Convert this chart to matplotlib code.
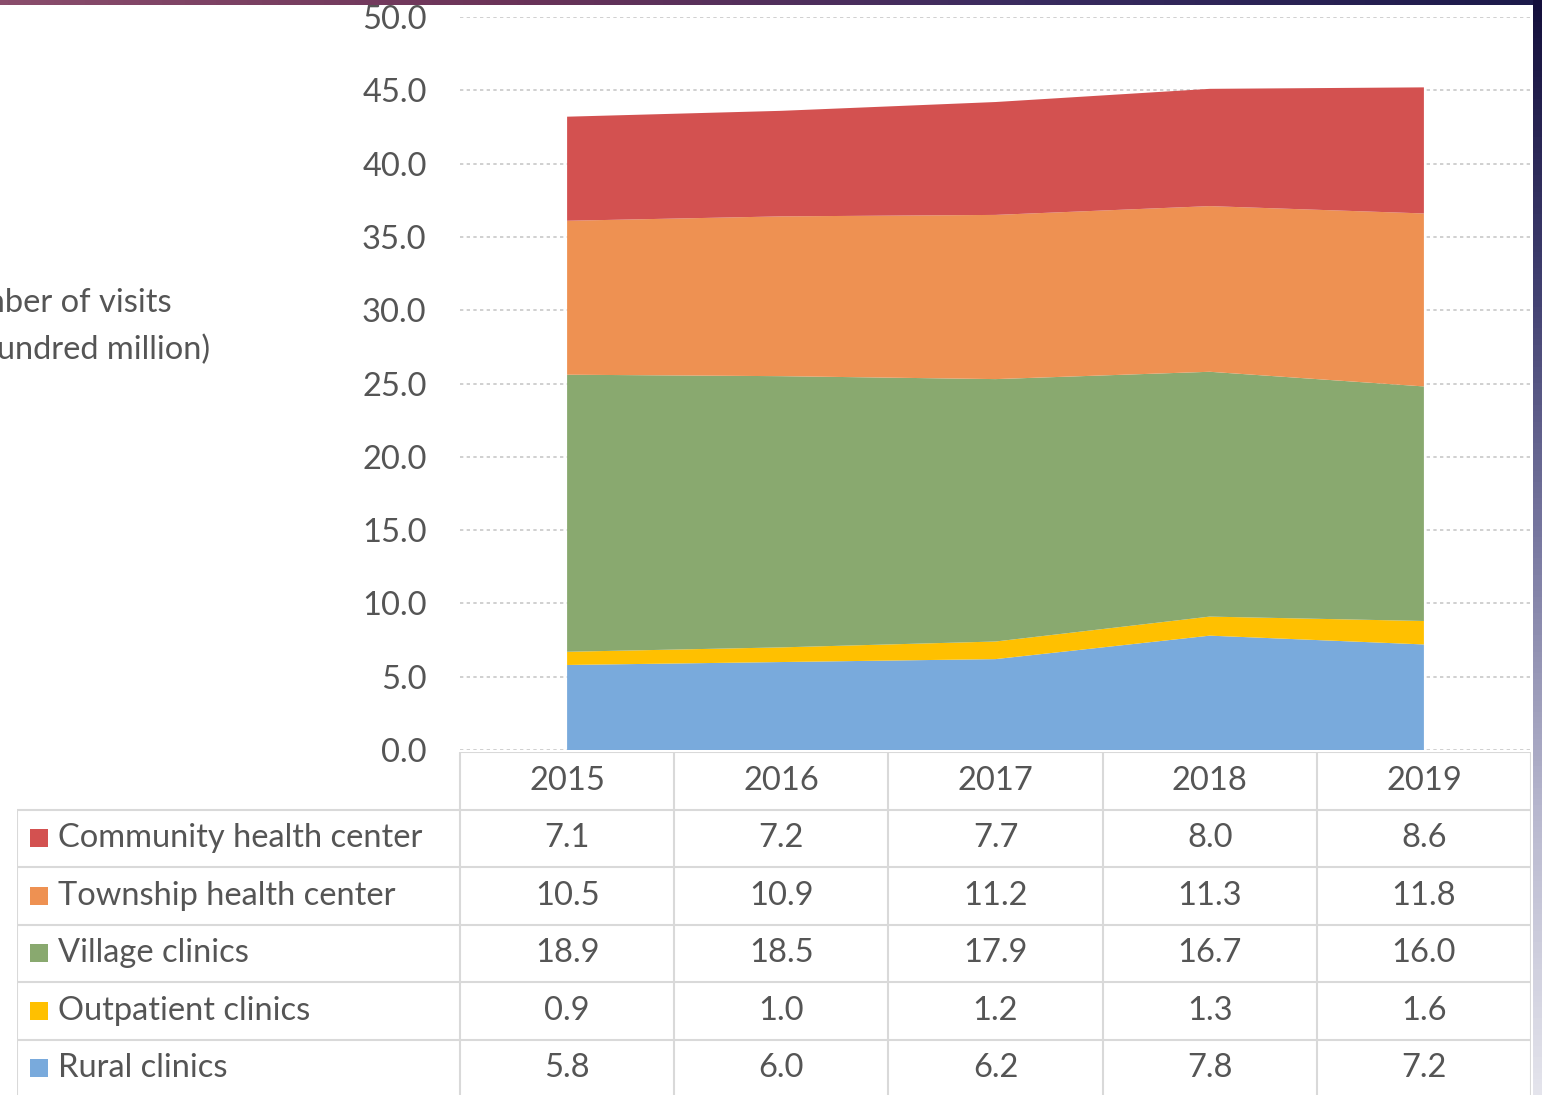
import numpy as np
import matplotlib.pyplot as plt
from matplotlib.colors import LinearSegmentedColormap

years = ['2015', '2016', '2017', '2018', '2019']
labels = ['Community health center', 'Township health center', 'Village clinics',
          'Outpatient clinics', 'Rural clinics']
community = [7.1, 7.2, 7.7, 8.0, 8.6]
township = [10.5, 10.9, 11.2, 11.3, 11.8]
village = [18.9, 18.5, 17.9, 16.7, 16.0]
outpatient = [0.9, 1.0, 1.2, 1.3, 1.6]
rural = [5.8, 6.0, 6.2, 7.8, 7.2]
yticks = [0, 5, 10, 15, 20, 25, 30, 35, 40, 45, 50]

colors = ['#D35150', '#EE9152', '#89A96F', '#FFC000', '#79AADC']
rows = [community, township, village, outpatient, rural]
txt = '#555555'
linec = '#d9d9d9'
fs = 23.5

plt.rcParams['font.family'] = ['Lato', 'DejaVu Sans']

W, H = 1542, 1095
fig = plt.figure(figsize=(15.42, 10.95), dpi=100)


def px(x0, y0, x1, y1):
    return [x0 / W, 1 - y1 / H, (x1 - x0) / W, (y1 - y0) / H]


# border strips seen in the screenshot
top = fig.add_axes(px(0, 0, 1542, 5))
cm_top = LinearSegmentedColormap.from_list('t', ['#8a4d6c', '#6a3358', '#3a2c60', '#1c1a4a'])
top.imshow(np.linspace(0, 1, 200)[None, :], aspect='auto', cmap=cm_top)
top.axis('off')
right = fig.add_axes(px(1533, 0, 1542, 1095))
cm_right = LinearSegmentedColormap.from_list('r', ['#140f3c', '#3e3d6e', '#7a7aa2', '#b9b9cf', '#e4e4ec'])
right.imshow(np.linspace(0, 1, 200)[:, None], aspect='auto', cmap=cm_right)
right.axis('off')

# stacked area
ax = fig.add_axes(px(460, 17, 1531, 750))
x = np.arange(len(years))
ax.stackplot(x, rural, outpatient, village, township, community,
             colors=colors[::-1], lw=0)
ax.set_xlim(-0.5, 4.5)
ax.set_ylim(0, 50)
ax.set_yticks(yticks)
ax.set_yticklabels(['%.1f' % v for v in yticks])
ax.set_xticks([])
ax.tick_params(axis='y', length=0, pad=24, labelsize=fs, labelcolor=txt)
ax.grid(axis='y', color='#c8c8c8', ls=(0, (2, 2)), lw=1.2)
ax.set_axisbelow(True)
for s in ax.spines.values():
    s.set_visible(False)

# axis title, cut off at the left edge as in the screenshot
fig.text(172 / W, 1 - 303 / H, 'Number of visits', ha='right', va='center',
         fontsize=fs, color=txt)
fig.text(210 / W, 1 - 350 / H, '(hundred million)', ha='right', va='center',
         fontsize=fs, color=txt)

# data table
left = -0.5 - (460 - 17) / 214.2
tb = fig.add_axes(px(17, 752, 1531, 1097))
tb.set_xlim(left, 4.5)
tb.set_ylim(6, 0)
tb.axis('off')
tb.hlines(0, -0.5, 4.5, color=linec, lw=1.5)
tb.hlines(np.arange(1, 7), left, 4.5, color=linec, lw=1.5)
tb.vlines(np.arange(-0.5, 5), 0, 6, color=linec, lw=1.5)
tb.vlines(left, 1, 6, color=linec, lw=1.5)

for i, yr in enumerate(years):
    tb.text(i, 0.5, yr, ha='center', va='center', fontsize=fs, color=txt)
lab_x = -0.5 - (460 - 58) / 214.2
sq_x = -0.5 - (460 - 39) / 214.2
for r, (name, vals, c) in enumerate(zip(labels, rows, colors)):
    yc = r + 1.5
    tb.scatter([sq_x], [yc], marker='s', s=150, color=c, lw=0)
    tb.text(lab_x, yc, name, ha='left', va='center', fontsize=fs, color=txt)
    for i, v in enumerate(vals):
        tb.text(i, yc, '%.1f' % v, ha='center', va='center', fontsize=fs, color=txt)

fig.savefig('out.png', dpi=100, facecolor='white')
